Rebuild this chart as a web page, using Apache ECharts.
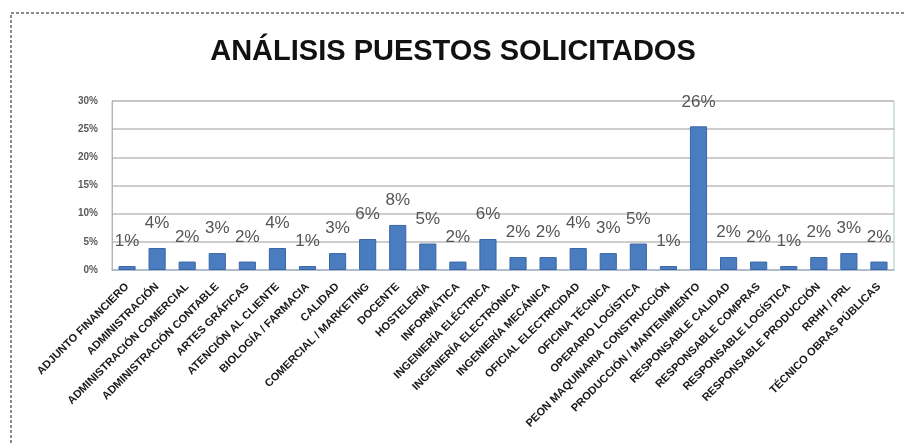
<!DOCTYPE html>
<html>
<head>
<meta charset="utf-8">
<script src="https://cdn.jsdelivr.net/npm/echarts@6/dist/echarts.min.js"></script>
<style>
html,body{margin:0;padding:0;background:#fff;}
#chart{width:906px;height:444px;}
</style>
</head>
<body>
<div id="chart"></div>
<script>
const categories = [
  "ADJUNTO FINANCIERO","ADMINISTRACIÓN","ADMINISTRACIÓN COMERCIAL","ADMINISTRACIÓN CONTABLE",
  "ARTES GRÁFICAS","ATENCIÓN AL CLIENTE","BIOLOGÍA / FARMACIA","CALIDAD",
  "COMERCIAL / MARKETING","DOCENTE","HOSTELERÍA","INFORMÁTICA",
  "INGENIERÍA ELÉCTRICA","INGENIERÍA ELECTRÓNICA","INGENIERÍA MECÁNICA","OFICIAL ELECTRICIDAD",
  "OFICINA TÉCNICA","OPERARIO LOGÍSTICA","PEON MAQUINARIA CONSTRUCCIÓN","PRODUCCIÓN / MANTENIMIENTO",
  "RESPONSABLE CALIDAD","RESPONSABLE COMPRAS","RESPONSABLE LOGÍSTICA","RESPONSABLE PRODUCCIÓN",
  "RRHH / PRL","TÉCNICO OBRAS PÚBLICAS"
];
const percentValues = [
  0.7, 3.9, 1.5, 3.0,
  1.5, 3.9, 0.7, 3.0,
  5.5, 8.0, 4.7, 1.5,
  5.5, 2.3, 2.3, 3.9,
  3.0, 4.7, 0.7, 25.5,
  2.3, 1.5, 0.7, 2.3,
  3.0, 1.5
];
const yTicks = [0, 5, 10, 15, 20, 25, 30];
const titleText = "ANÁLISIS PUESTOS SOLICITADOS";

const chart = echarts.init(document.getElementById('chart'), null, {renderer:'canvas'});
chart.setOption({
  animation: false,
  backgroundColor: '#ffffff',
  title: {
    text: titleText,
    left: 448, textAlign: 'center', top: 32,
    textStyle: {fontFamily: 'Liberation Sans', fontWeight: 'bold', fontSize: 29, color: '#111'}
  },
  graphic: [{
    type: 'rect', silent: true,
    shape: {x: 11, y: 13, width: 1000, height: 1000},
    style: {fill: 'none', stroke: '#666', lineWidth: 1.5, lineDash: [3, 2]}
  }],
  grid: {
    left: 112, right: 12, top: 101, bottom: 174,
    show: true, borderColor: '#a8c4c8', borderWidth: 1
  },
  xAxis: {
    type: 'category',
    data: categories,
    axisTick: {show: false},
    axisLine: {lineStyle: {color: '#aab8d0', width: 1.5}},
    axisLabel: {
      interval: 0, rotate: 45, margin: 15,
      fontFamily: 'Liberation Sans', fontWeight: 'bold', fontSize: 11, color: '#1a1a1a'
    }
  },
  yAxis: {
    type: 'value', min: yTicks[0], max: yTicks[yTicks.length - 1], interval: 5,
    axisLine: {show: true, lineStyle: {color: '#aaaaaa', type: 'dotted'}},
    axisTick: {show: false},
    splitLine: {lineStyle: {color: '#bdbdbd', width: 1.5}},
    axisLabel: {
      formatter: '{value}%', margin: 14,
      fontFamily: 'Liberation Sans', fontWeight: 'bold', fontSize: 10, color: '#5a5a5a'
    }
  },
  series: [{
    type: 'bar',
    data: percentValues,
    barCategoryGap: '43%',
    itemStyle: {color: '#4a7cc0', borderColor: '#3a66a6', borderWidth: 1},
    label: {
      show: true, position: 'top', distance: 16,
      formatter: p => Math.round(p.value) + '%',
      fontFamily: 'Liberation Sans', fontSize: 17, color: '#555555'
    }
  }]
});
</script>
</body>
</html>
